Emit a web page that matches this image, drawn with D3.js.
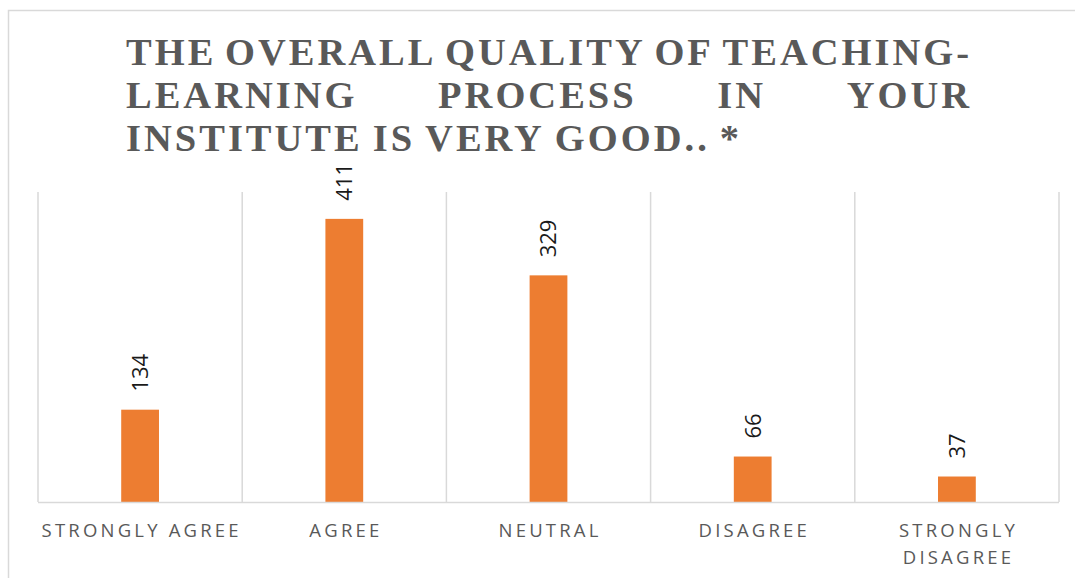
<!DOCTYPE html>
<html>
<head>
<meta charset="utf-8">
<script src="https://cdn.jsdelivr.net/npm/d3@7"></script>
<style>
  body { margin: 0; background: #fff; }
  svg { display: block; }
</style>
</head>
<body>
<script>
// chart data
var categories = ['STRONGLY AGREE', 'AGREE', 'NEUTRAL', 'DISAGREE', 'STRONGLY DISAGREE'];
var values = [134, 411, 329, 66, 37];
var titleLines = ['THE OVERALL QUALITY OF TEACHING-', 'LEARNING PROCESS IN YOUR', 'INSTITUTE IS VERY GOOD.. *'];

var width = 1075, height = 578;
var plot = { left: 38, right: 1059, top: 192, bottom: 502 };

var svg = d3.select('body')
    .append('svg')
    .attr('width', width)
    .attr('height', height);

// chart area frame (only top and left show in the picture)
svg.append('path')
    .attr('d', 'M8.5,' + (height + 5) + 'V10.5H' + (width + 5))
    .attr('fill', 'none')
    .attr('stroke', '#d9d9d9')
    .attr('stroke-width', 1.5);

// title, justified like the original
var titleLeft = 126, titleRight = 969, titleLs = 3;
var title = svg.append('g')
    .attr('font-family', '"Liberation Serif", "Times New Roman", serif')
    .attr('font-weight', 'bold')
    .attr('font-size', 38.5)
    .attr('letter-spacing', titleLs)
    .attr('fill', '#595959');

titleLines.forEach(function (line, i) {
    var y = 65 + i * 43;
    var words = line.split(' ');
    var justify = i < titleLines.length - 1;
    var nodes = words.map(function (w) {
        return title.append('text').attr('y', y).text(w);
    });
    var widths = nodes.map(function (n) { return n.node().getComputedTextLength() - titleLs; });
    var total = d3.sum(widths);
    var gap = justify ? (titleRight - titleLeft - total) / (words.length - 1) : 13;
    var x = titleLeft;
    nodes.forEach(function (n, j) {
        n.attr('x', x);
        x += widths[j] + gap;
    });
});

var x = d3.scaleBand()
    .domain(categories)
    .range([plot.left, plot.right])
    .padding(0);

var y = d3.scaleLinear()
    .domain([0, 450])
    .range([plot.bottom, plot.top]);

// category separators
svg.append('g')
    .selectAll('line')
    .data(categories.concat(['end']))
    .join('line')
    .attr('x1', function (d, i) { return i < categories.length ? x(d) : plot.right; })
    .attr('x2', function (d, i) { return i < categories.length ? x(d) : plot.right; })
    .attr('y1', plot.top)
    .attr('y2', plot.bottom)
    .attr('stroke', '#d9d9d9')
    .attr('stroke-width', 1.5);

var barW = x.bandwidth() * 0.185;

svg.append('g')
    .selectAll('rect')
    .data(values)
    .join('rect')
    .attr('x', function (d, i) { return x(categories[i]) + x.bandwidth() / 2 - barW / 2; })
    .attr('y', function (d) { return y(d); })
    .attr('width', barW)
    .attr('height', function (d) { return y(0) - y(d); })
    .attr('fill', '#ed7d31');

// baseline
svg.append('line')
    .attr('x1', plot.left).attr('x2', plot.right)
    .attr('y1', plot.bottom + 0.5).attr('y2', plot.bottom + 0.5)
    .attr('stroke', '#d9d9d9')
    .attr('stroke-width', 1.5);

// value labels, rotated
svg.append('g')
    .selectAll('text')
    .data(values)
    .join('text')
    .attr('transform', function (d, i) {
        var cx = x(categories[i]) + x.bandwidth() / 2;
        return 'translate(' + cx + ',' + (y(d) - 18) + ') rotate(-90)';
    })
    .attr('dy', '0.36em')
    .attr('font-family', '"Open Sans", sans-serif')
    .attr('font-size', 22)
    .attr('fill', '#1a1a1a')
    .text(function (d) { return d; });

// category labels, wrapped when too wide for the band
var catLs = 3.2;
var catG = svg.append('g')
    .attr('font-family', '"Open Sans", sans-serif')
    .attr('font-size', 18.5)
    .attr('letter-spacing', catLs)
    .attr('fill', '#595959')
    .attr('text-anchor', 'middle');

categories.forEach(function (c) {
    var cx = x(c) + x.bandwidth() / 2 + catLs / 2;
    var t = catG.append('text').attr('x', cx).attr('y', 537).text(c);
    if (t.node().getComputedTextLength() > x.bandwidth()) {
        var words = c.split(' ');
        t.text(null);
        words.forEach(function (w, k) {
            t.append('tspan').attr('x', cx).attr('y', 537 + k * 27).text(w);
        });
    }
});
</script>
</body>
</html>
